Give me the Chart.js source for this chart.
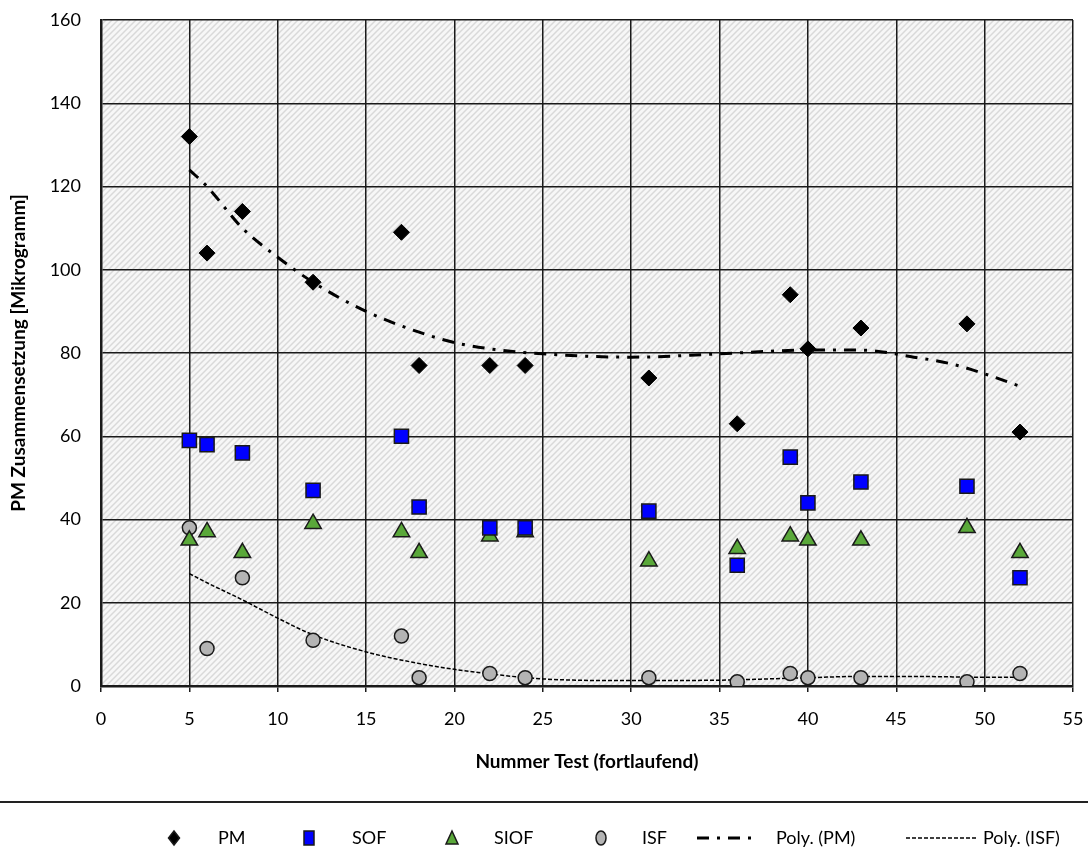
<!DOCTYPE html>
<html>
<head>
<meta charset="utf-8">
<script src="https://cdn.jsdelivr.net/npm/chart.js@4.4.0/dist/chart.umd.min.js"></script>
<style>
  html, body { margin: 0; padding: 0; background: #fff; }
  #wrap { width: 1088px; height: 852px; position: relative; }
</style>
</head>
<body>
<div id="wrap"><canvas id="chart" width="1088" height="852"></canvas></div>
<script>
/* ── Data ── */
const testNr = [5, 6, 8, 12, 17, 18, 22, 24, 31, 36, 39, 40, 43, 49, 52];
const pmVals   = [132, 104, 114, 97, 109, 77, 77, 77, 74, 63, 94, 81, 86, 87, 61];
const sofVals  = [59, 58, 56, 47, 60, 43, 38, 38, 42, 29, 55, 44, 49, 48, 26];
const siofVals = [35, 37, 32, 39, 37, 32, 36, 37, 30, 33, 36, 35, 35, 38, 32];
const isfVals  = [38, 9, 26, 11, 12, 2, 3, 2, 2, 1, 3, 2, 2, 1, 3];

// trendlines
const polyX      = [5, 6, 8, 10, 12, 15, 18, 20, 22, 25, 30, 35, 40, 43, 46, 48, 50, 52];
const polyPMVals = [124, 120, 110, 103, 97, 90, 85, 82.5, 81, 79.8, 79, 79.8, 80.7, 80.7, 79, 77.5, 75, 72];
const polyISFVals = [27, 24.8, 20.7, 16.3, 12.3, 8.2, 5.4, 4, 2.9, 1.7, 1.3, 1.4, 2, 2.3, 2.3, 2.2, 2.1, 2.1];

const xTicks = [0, 5, 10, 15, 20, 25, 30, 35, 40, 45, 50, 55];
const yTicks = [0, 20, 40, 60, 80, 100, 120, 140, 160];

const FONT = 'Lato, "Open Sans", sans-serif';
const COLORS = { pm: '#000000', sof: '#0000ff', siof: '#5aa83a', isf: '#b4b4b4', edge: '#1a1a1a' };

const pts = (xs, ys) => xs.map((x, i) => ({ x, y: ys[i] }));

// ── hatched plot background ──
function makeHatch() {
  const c = document.createElement('canvas');
  c.width = 6; c.height = 6;
  const g = c.getContext('2d');
  g.fillStyle = '#f7f7f7';
  g.fillRect(0, 0, 6, 6);
  g.strokeStyle = '#d9d9d9';
  g.lineWidth = 1.5;
  g.beginPath();
  g.moveTo(-1, 7); g.lineTo(7, -1);
  g.moveTo(-4, 4); g.lineTo(4, -4);
  g.moveTo(2, 10); g.lineTo(10, 2);
  g.stroke();
  return c;
}

const hatchPlugin = {
  id: 'hatch',
  beforeDraw(chart) {
    const { ctx, chartArea: a } = chart;
    const pat = ctx.createPattern(makeHatch(), 'repeat');
    ctx.save();
    ctx.fillStyle = pat;
    ctx.fillRect(a.left, a.top, a.right - a.left, a.bottom - a.top);
    ctx.restore();
  }
};

// ── legend below the separator line ──
function marker(ctx, kind, x, y) {
  ctx.save();
  ctx.lineWidth = 1.5;
  ctx.strokeStyle = COLORS.edge;
  ctx.beginPath();
  if (kind === 'diamond') {
    ctx.fillStyle = COLORS.pm;
    ctx.moveTo(x, y - 7); ctx.lineTo(x + 5.5, y); ctx.lineTo(x, y + 7); ctx.lineTo(x - 5.5, y); ctx.closePath();
  } else if (kind === 'square') {
    ctx.fillStyle = COLORS.sof;
    ctx.rect(x - 5, y - 7, 10, 14);
  } else if (kind === 'triangle') {
    ctx.fillStyle = COLORS.siof;
    ctx.moveTo(x, y - 7); ctx.lineTo(x + 6, y + 6); ctx.lineTo(x - 6, y + 6); ctx.closePath();
  } else {
    ctx.fillStyle = COLORS.isf;
    ctx.ellipse(x, y, 5, 7, 0, 0, Math.PI * 2);
  }
  ctx.fill(); ctx.stroke();
  ctx.restore();
}

const legendPlugin = {
  id: 'bottomLegend',
  afterDraw(chart) {
    const { ctx } = chart;
    const y = 838;
    ctx.save();
    // separator
    ctx.strokeStyle = '#222';
    ctx.lineWidth = 2;
    ctx.beginPath(); ctx.moveTo(0, 802); ctx.lineTo(1088, 802); ctx.stroke();

    marker(ctx, 'diamond', 174, y);
    marker(ctx, 'square', 309, y);
    marker(ctx, 'triangle', 452, y);
    marker(ctx, 'circle', 601, y);

    ctx.strokeStyle = '#000';
    ctx.lineWidth = 3;
    ctx.setLineDash([12, 8, 3, 8]);
    ctx.beginPath(); ctx.moveTo(697, y); ctx.lineTo(756, y); ctx.stroke();
    ctx.lineWidth = 1.5;
    ctx.setLineDash([4, 2]);
    ctx.beginPath(); ctx.moveTo(906, y); ctx.lineTo(976, y); ctx.stroke();
    ctx.setLineDash([]);

    ctx.fillStyle = '#000';
    ctx.font = '18px ' + FONT;
    ctx.textBaseline = 'middle';
    ctx.textAlign = 'left';
    ctx.fillText('PM', 218, y);
    ctx.fillText('SOF', 352, y);
    ctx.fillText('SIOF', 494, y);
    ctx.fillText('ISF', 642, y);
    ctx.fillText('Poly. (PM)', 776, y);
    ctx.fillText('Poly. (ISF)', 983, y);
    ctx.restore();
  }
};

// label overhang is handled by the layout padding instead
function noPad(s) {
  s.paddingTop = 0; s.paddingBottom = 0; s.paddingLeft = 0; s.paddingRight = 0;
}

new Chart(document.getElementById('chart'), {
  type: 'scatter',
  data: {
    datasets: [
      { label: 'PM', data: pts(testNr, pmVals), pointStyle: 'rectRot', pointRadius: 8, backgroundColor: COLORS.pm, borderColor: COLORS.pm, borderWidth: 1 },
      { label: 'SOF', data: pts(testNr, sofVals), pointStyle: 'rect', pointRadius: 10, backgroundColor: COLORS.sof, borderColor: COLORS.edge, borderWidth: 1.5 },
      { label: 'SIOF', data: pts(testNr, siofVals), pointStyle: 'triangle', pointRadius: 9.5, backgroundColor: COLORS.siof, borderColor: COLORS.edge, borderWidth: 1.5 },
      { label: 'ISF', data: pts(testNr, isfVals), pointStyle: 'circle', pointRadius: 7, backgroundColor: COLORS.isf, borderColor: COLORS.edge, borderWidth: 1.5 },
      { label: 'Poly. (PM)', type: 'line', data: pts(polyX, polyPMVals), borderColor: '#000', borderWidth: 3, borderDash: [12, 8, 3, 8], pointRadius: 0, tension: 0.4, cubicInterpolationMode: 'monotone', fill: false },
      { label: 'Poly. (ISF)', type: 'line', data: pts(polyX, polyISFVals), borderColor: '#000', borderWidth: 1.5, borderDash: [4, 2], pointRadius: 0, tension: 0.4, cubicInterpolationMode: 'monotone', fill: false }
    ]
  },
  options: {
    responsive: false,
    animation: false,
    layout: { padding: { top: 20, right: 15, left: 0, bottom: 76 } },
    plugins: { legend: { display: false }, tooltip: { enabled: false } },
    scales: {
      x: {
        type: 'linear', min: 0, max: 55,
        afterBuildTicks: s => { s.ticks = xTicks.map(v => ({ value: v })); },
        afterFit: s => { s.height = 90; noPad(s); },
        grid: { color: '#1a1a1a', lineWidth: 1.5, drawTicks: true, tickLength: 6, tickColor: '#1a1a1a', tickWidth: 1.5 },
        border: { color: '#1a1a1a', width: 2.5 },
        ticks: { color: '#000', font: { family: FONT, size: 18 }, padding: 16, maxRotation: 0 },
        title: { display: true, text: 'Nummer Test (fortlaufend)', color: '#000', font: { family: FONT, size: 19, weight: 'bold' }, padding: { top: 0, bottom: 3 } }
      },
      y: {
        type: 'linear', min: 0, max: 160,
        afterBuildTicks: s => { s.ticks = yTicks.map(v => ({ value: v })); },
        afterFit: s => { s.width = 101; noPad(s); },
        grid: { color: '#1a1a1a', lineWidth: 1.5, drawTicks: false },
        border: { color: '#1a1a1a', width: 2.5 },
        ticks: { color: '#000', font: { family: FONT, size: 18 }, padding: 20 },
        title: { display: true, text: 'PM Zusammensetzung [Mikrogramm]', color: '#000', font: { family: FONT, size: 19, weight: 'bold' }, padding: { top: 7, bottom: 0 } }
      }
    }
  },
  plugins: [hatchPlugin, legendPlugin]
});
</script>
</body>
</html>
